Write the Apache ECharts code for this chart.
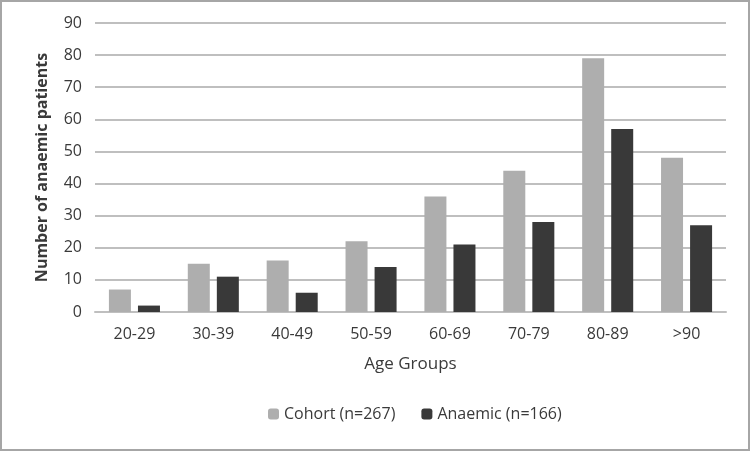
<!DOCTYPE html>
<html>
<head>
<meta charset="utf-8">
<script src="https://cdn.jsdelivr.net/npm/echarts@6/dist/echarts.min.js"></script>
<style>
  html, body { margin: 0; padding: 0; background: #fff; }
  #chart { width: 746px; height: 447px; border: 2px solid #a6a6a6; }
</style>
</head>
<body>
<div id="chart"></div>
<script>
// age groups and counts
const ageGroups = ['20-29', '30-39', '40-49', '50-59', '60-69', '70-79', '80-89', '>90']
const cohort = [7, 15, 16, 22, 36, 44, 79, 48]
const anaemic = [2, 11, 6, 14, 21, 28, 57, 27]

const textColor = '#3a3a3a'
const font = 'Open Sans'

const myChart = echarts.init(document.getElementById('chart'))
myChart.setOption({
  animation: false,
  textStyle: { fontFamily: font },
  grid: { left: 93, right: 22, top: 21, bottom: 137 },
  legend: {
    bottom: 22,
    left: 261,
    itemWidth: 11,
    itemHeight: 11,
    itemGap: 26,
    textStyle: { color: textColor, fontSize: 16, fontFamily: font },
    data: ['Cohort (n=267)', 'Anaemic (n=166)']
  },
  xAxis: {
    type: 'category',
    data: ageGroups,
    name: 'Age Groups',
    nameLocation: 'middle',
    nameGap: 44,
    nameTextStyle: { color: textColor, fontSize: 17, fontFamily: font },
    axisTick: { show: false },
    axisLine: { lineStyle: { color: '#bfbfbf', width: 2 } },
    axisLabel: { color: textColor, fontSize: 16, margin: 14 }
  },
  yAxis: {
    type: 'value',
    min: 0,
    max: 90,
    interval: 10,
    name: 'Number of anaemic patients',
    nameLocation: 'middle',
    nameGap: 45,
    nameTextStyle: { color: textColor, fontSize: 16, fontWeight: 'bold', fontFamily: font },
    axisLabel: { color: textColor, fontSize: 16, margin: 13 },
    splitLine: { lineStyle: { color: '#bfbfbf', width: 2 } }
  },
  series: [
    {
      name: 'Cohort (n=267)',
      type: 'bar',
      data: cohort,
      barWidth: 22,
      barGap: '32%',
      itemStyle: { color: '#aeaeae' }
    },
    {
      name: 'Anaemic (n=166)',
      type: 'bar',
      data: anaemic,
      barWidth: 22,
      itemStyle: { color: '#393939' }
    }
  ]
})
</script>
</body>
</html>
